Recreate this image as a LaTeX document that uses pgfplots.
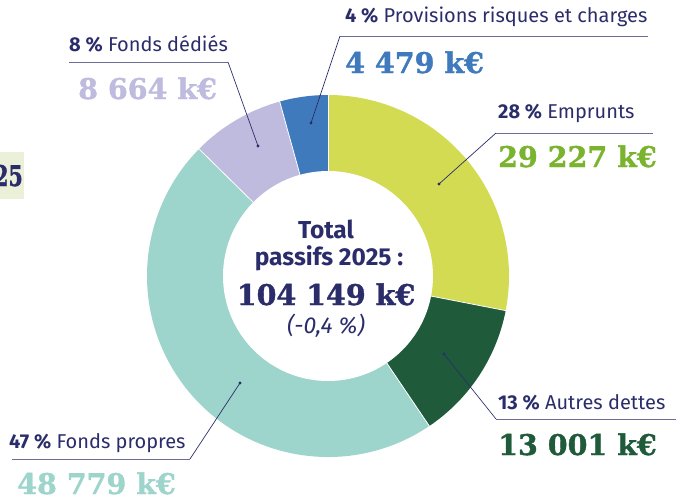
\documentclass[border=0pt]{standalone}
\usepackage{pgfplots}
\pgfplotsset{compat=1.18}
\usepackage{pgfplotstable}
\usepackage{fontspec}
\setmainfont{Fira Sans}
\newfontfamily\slab{DejaVu Serif}[BoldFeatures={FakeBold=1.2}]
\newfontfamily\slabnarrow{DejaVu Serif}[BoldFeatures={FakeBold=1.2}, FakeStretch=0.72]

\definecolor{navy}{HTML}{2B2D6B}
\definecolor{cEmp}{HTML}{D3DB52}
\definecolor{cAut}{HTML}{1F5A3A}
\definecolor{cPro}{HTML}{9DD4CB}
\definecolor{cDed}{HTML}{BFBBDE}
\definecolor{cPrv}{HTML}{3F7ABD}
\definecolor{tEmp}{HTML}{7AB32E}
\definecolor{boxbg}{HTML}{EBF1D8}

% passifs 2025, k€, clockwise from the top
\pgfplotstableread{
label value colour
Emprunts 29227 cEmp
Autres 13001 cAut
Propres 48779 cPro
Dedies 8664 cDed
Provisions 4479 cPrv
}\passifs

\gdef\total{0}
\foreach \i in {0,...,4}{%
  \pgfplotstablegetelem{\i}{value}\of\passifs
  \xdef\total{\fpeval{\total+\pgfplotsretval}}}
\gdef\cum{0}
\foreach \i in {0,...,4}{%
  \pgfplotstablegetelem{\i}{value}\of\passifs
  \expandafter\xdef\csname s\i\endcsname{\fpeval{90-360*\cum/\total}}%
  \xdef\cum{\fpeval{\cum+\pgfplotsretval}}%
  \expandafter\xdef\csname e\i\endcsname{\fpeval{90-360*\cum/\total}}%
  \pgfplotstablegetelem{\i}{colour}\of\passifs
  \expandafter\xdef\csname col\i\endcsname{\pgfplotsretval}}

\newcommand\lab[2]{{\fontsize{20}{22}\selectfont\color{navy}\textbf{#1}~#2}}
\newcommand\knum[2]{{\slab\bfseries\fontsize{28.5}{30}\selectfont\color{#1}#2}}

\begin{document}
\begin{tikzpicture}
\begin{axis}[width=680pt, height=501pt, scale only axis,
  xmin=0, xmax=680, ymin=0, ymax=501, y dir=reverse,
  hide axis, clip=false]

% donut
\pgfplotsinvokeforeach{0,...,4}{
  \fill[\csname col#1\endcsname] (axis cs:328,276) -- ++(\csname s#1\endcsname:181pt)
    arc[start angle=\csname s#1\endcsname, end angle=\csname e#1\endcsname, radius=181pt] -- cycle;
}
\pgfplotsinvokeforeach{0,...,4}{
  \draw[white, line width=0.8pt] (axis cs:328,276) -- ++(\csname s#1\endcsname:182pt);
}
\fill[white] (axis cs:328,276) circle[radius=105pt];

% centre
\node[anchor=base, navy, font=\bfseries\fontsize{24.5}{26}\selectfont] at (axis cs:326,238) {Total};
\node[anchor=base, navy, font=\bfseries\fontsize{24.5}{26}\selectfont] at (axis cs:329,265) {passifs 2025 :};
\node[anchor=base] at (axis cs:326,305) {\knum{navy}{104 149 k€}};
\node[anchor=base, navy, font=\itshape\fontsize{23}{24}\selectfont] at (axis cs:326,333) {(-0,4 \%)};

% leaders
\draw[navy!70, line width=0.8pt] (axis cs:340,36) -- (axis cs:648,36);
\draw[navy!70, line width=0.8pt] (axis cs:69,62) -- (axis cs:228,62);
\draw[navy!70, line width=0.8pt] (axis cs:496,133) -- (axis cs:653,133);
\draw[navy!70, line width=0.8pt] (axis cs:496,419) -- (axis cs:676,419);
\draw[navy!70, line width=0.8pt] (axis cs:12,459) -- (axis cs:190,459);
\draw[navy, line width=0.7pt] (axis cs:340,36) -- (axis cs:311,123);
\draw[navy, line width=0.7pt] (axis cs:228,62) -- (axis cs:258,146);
\draw[navy, line width=0.7pt] (axis cs:496,133) -- (axis cs:439,184);
\draw[navy, line width=0.7pt] (axis cs:496,419) -- (axis cs:444,354);
\draw[navy, line width=0.7pt] (axis cs:190,459) -- (axis cs:240,383);
\fill[navy] (axis cs:311,123) circle[radius=1.6pt];
\fill[navy] (axis cs:258,146) circle[radius=1.6pt];
\fill[navy] (axis cs:439,184) circle[radius=1.6pt];
\fill[navy] (axis cs:444,354) circle[radius=1.6pt];
\fill[navy] (axis cs:240,383) circle[radius=1.6pt];

% labels
\node[anchor=base west, inner sep=0] at (axis cs:345,22) {\lab{4 \%}{Provisions risques et charges}};
\node[anchor=base west, inner sep=0] at (axis cs:345,73) {\knum{cPrv}{4 479 k€}};
\node[anchor=base west, inner sep=0] at (axis cs:69,51) {\lab{8 \%}{Fonds dédiés}};
\node[anchor=base west, inner sep=0] at (axis cs:78,99) {\knum{cDed}{8 664 k€}};
\node[anchor=base west, inner sep=0] at (axis cs:498,118) {\lab{28 \%}{Emprunts}};
\node[anchor=base west, inner sep=0] at (axis cs:498,167) {\knum{tEmp}{29 227 k€}};
\node[anchor=base west, inner sep=0] at (axis cs:498,409) {\lab{13 \%}{Autres dettes}};
\node[anchor=base west, inner sep=0] at (axis cs:498,455) {\knum{cAut}{13 001 k€}};
\node[anchor=base west, inner sep=0] at (axis cs:9,448) {\lab{47 \%}{Fonds propres}};
\node[anchor=base west, inner sep=0] at (axis cs:17,494) {\knum{cPro}{48 779 k€}};

% cropped box on the left
\fill[boxbg] (axis cs:0,152) rectangle (axis cs:24,199);
\node[anchor=base east, inner sep=0] at (axis cs:23,186) {{\slabnarrow\bfseries\fontsize{28.5}{30}\selectfont\color{navy}25}};
\end{axis}
\pgfresetboundingbox
\useasboundingbox (0,0) rectangle (680pt,501pt);
\end{tikzpicture}
\end{document}
